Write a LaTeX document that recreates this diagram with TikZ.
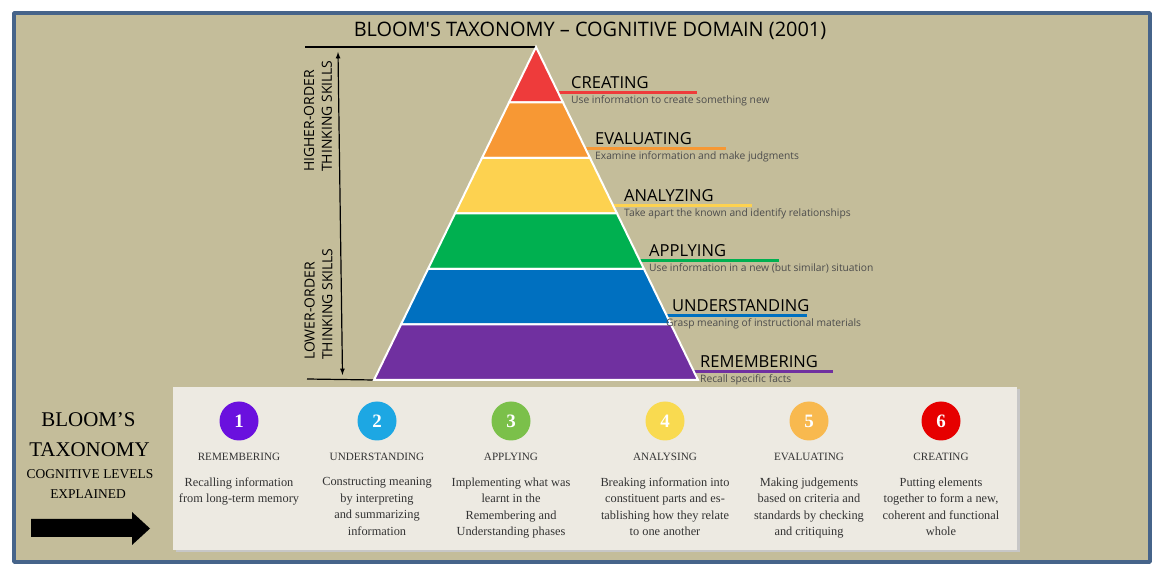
\documentclass[tikz,border=0pt]{standalone}
\usepackage{fontspec}
\setmainfont{Liberation Serif}
\newfontfamily\labelfont{Open Sans}
\usetikzlibrary{arrows.meta}
\definecolor{frameblue}{HTML}{46648A}
\definecolor{bgtan}{HTML}{C4BD9A}
\definecolor{panelgrey}{HTML}{EDEAE2}
\definecolor{lvred}{HTML}{EE3B3B}
\definecolor{lvorange}{HTML}{F79834}
\definecolor{lvyellow}{HTML}{FDD250}
\definecolor{lvgreen}{HTML}{00B050}
\definecolor{lvblue}{HTML}{0070C0}
\definecolor{lvpurple}{HTML}{7030A0}
\definecolor{cpurple}{HTML}{6A10DE}
\definecolor{ccyan}{HTML}{1DA7E3}
\definecolor{cgreen}{HTML}{7BC04A}
\definecolor{cyellow}{HTML}{F9DA50}
\definecolor{corange}{HTML}{F8B94F}
\definecolor{cred}{HTML}{E60000}

\begin{document}
\begin{tikzpicture}[>=latex,line join=bevel,
  lvl/.style={anchor=base west,inner sep=0pt,font=\labelfont\fontsize{16.6}{19}\selectfont},
  sub/.style={anchor=base west,inner sep=0pt,text=black!70,font=\labelfont\fontsize{10.3}{12}\selectfont},
  uline/.style={line width=3bp},
  layer/.style={draw=white,line width=2bp,line join=miter},
  side/.style={rotate=90,anchor=west,align=left,inner sep=0pt,font=\labelfont\fontsize{14}{18}\selectfont},
  num/.style={circle,minimum size=39bp,inner sep=0pt,text=white,font=\bfseries\fontsize{19}{22}\selectfont},
  head/.style={anchor=base,inner sep=0pt,text=black!80,font=\fontsize{11.2}{13}\selectfont},
  desc/.style={anchor=north,align=center,inner sep=0pt,text=black!80,font=\fontsize{12.4}{16.5}\selectfont}]
%%
\useasboundingbox (0bp,0bp) rectangle (1168bp,576bp);
\fill[white] (0bp,0bp) rectangle (1168bp,576bp);
\filldraw[fill=bgtan,draw=frameblue,line width=4bp] (14bp,14bp) rectangle (1150bp,563bp);
\node (title) at (590bp,539bp) [anchor=base,inner sep=0pt,font=\labelfont\fontsize{20}{23}\selectfont] {BLOOM'S TAXONOMY – COGNITIVE DOMAIN (2001)};
%
\coordinate (apex) at (536bp,529bp);
\coordinate (base_l) at (374bp,196bp);
\coordinate (top_l) at (305bp,529bp);
\coordinate (bot_l) at (307bp,197bp);
\coordinate (arr_top) at (338bp,524bp);
\coordinate (arr_bot) at (342.5bp,201bp);
\draw [black,line width=1.2bp] (top_l) -- (apex);
\draw [black,line width=1.2bp] (bot_l) -- (base_l);
\draw [black,line width=1.2bp,<->] (arr_bot) -- (arr_top);
\node (side_hi) at (318bp,404bp) [side] {HIGHER-ORDER\\THINKING SKILLS};
\node (side_lo) at (318.5bp,216bp) [side] {LOWER-ORDER\\THINKING SKILLS};
%
\draw [lvred,uline] (556bp,483bp) -- (697bp,483bp);
\draw [lvorange,uline] (583bp,427bp) -- (726bp,427bp);
\draw [lvyellow,uline] (611bp,370bp) -- (752bp,370bp);
\draw [lvgreen,uline] (638bp,315bp) -- (779bp,315bp);
\draw [lvblue,uline] (665bp,260bp) -- (807bp,260bp);
\draw [lvpurple,uline] (692bp,204bp) -- (833bp,204bp);
%
\filldraw [layer,fill=lvred] (536bp,529bp) -- (563bp,473.5bp) -- (509bp,473.5bp) -- cycle;
\filldraw [layer,fill=lvorange] (509bp,473.5bp) -- (563bp,473.5bp) -- (590bp,418bp) -- (482bp,418bp) -- cycle;
\filldraw [layer,fill=lvyellow] (482bp,418bp) -- (590bp,418bp) -- (617bp,362.5bp) -- (455bp,362.5bp) -- cycle;
\filldraw [layer,fill=lvgreen] (455bp,362.5bp) -- (617bp,362.5bp) -- (644bp,307bp) -- (428bp,307bp) -- cycle;
\filldraw [layer,fill=lvblue] (428bp,307bp) -- (644bp,307bp) -- (671bp,251.5bp) -- (401bp,251.5bp) -- cycle;
\filldraw [layer,fill=lvpurple] (401bp,251.5bp) -- (671bp,251.5bp) -- (698bp,196bp) -- (374bp,196bp) -- cycle;
%
\node (lvl_6) at (571bp,487bp) [lvl] {CREATING};
\node (sub_6) at (571bp,472bp) [sub] {Use information to create something new};
\node (lvl_5) at (595bp,431bp) [lvl] {EVALUATING};
\node (sub_5) at (595bp,416bp) [sub] {Examine information and make judgments};
\node (lvl_4) at (624bp,374bp) [lvl] {ANALYZING};
\node (sub_4) at (624bp,359bp) [sub] {Take apart the known and identify relationships};
\node (lvl_3) at (649bp,319bp) [lvl] {APPLYING};
\node (sub_3) at (649bp,304bp) [sub] {Use information in a new (but similar) situation};
\node (lvl_2) at (672bp,264bp) [lvl] {UNDERSTANDING};
\node (sub_2) at (666bp,249bp) [sub] {Grasp meaning of instructional materials};
\node (lvl_1) at (700bp,208bp) [lvl] {REMEMBERING};
\node (sub_1) at (700bp,193bp) [sub] {Recall specific facts};
%
\node (bl_1) at (88.5bp,149bp) [anchor=base,inner sep=0pt,font=\fontsize{21}{24}\selectfont] {BLOOM’S};
\node (bl_2) at (89.5bp,119bp) [anchor=base,inner sep=0pt,font=\fontsize{21}{24}\selectfont] {TAXONOMY};
\node (bl_3) at (90bp,97bp) [anchor=base,inner sep=0pt,font=\fontsize{13.5}{16}\selectfont] {COGNITIVE LEVELS};
\node (bl_4) at (88bp,77bp) [anchor=base,inner sep=0pt,font=\fontsize{13.5}{16}\selectfont] {EXPLAINED};
\fill [black] (31bp,57bp) -- (132bp,57bp) -- (132bp,64bp) -- (150bp,47.5bp) -- (132bp,31bp) -- (132bp,39bp) -- (31bp,39bp) -- cycle;
%
\fill [black!22] (175.5bp,23.5bp) rectangle (1019.5bp,186.5bp);
\fill [panelgrey] (173bp,26bp) rectangle (1017bp,189bp);
\node (num_1) at (239bp,155bp) [num,fill=cpurple] {1};
\node (num_2) at (377bp,155bp) [num,fill=ccyan] {2};
\node (num_3) at (511bp,155bp) [num,fill=cgreen] {3};
\node (num_4) at (665bp,155bp) [num,fill=cyellow] {4};
\node (num_5) at (809bp,155bp) [num,fill=corange] {5};
\node (num_6) at (941bp,155bp) [num,fill=cred] {6};
\node (head_1) at (239bp,115bp) [head] {REMEMBERING};
\node (head_2) at (377bp,115bp) [head] {UNDERSTANDING};
\node (head_3) at (511bp,115bp) [head] {APPLYING};
\node (head_4) at (665bp,115bp) [head] {ANALYSING};
\node (head_5) at (809bp,115bp) [head] {EVALUATING};
\node (head_6) at (941bp,115bp) [head] {CREATING};
\node (desc_1) at (239bp,98.5bp) [desc] {Recalling information\\from long-term memory};
\node (desc_2) at (377bp,98.5bp) [desc] {Constructing meaning\\by interpreting\\and summarizing\\information};
\node (desc_3) at (511bp,98.5bp) [desc] {Implementing what was\\learnt in the\\Remembering and\\Understanding phases};
\node (desc_4) at (665bp,98.5bp) [desc] {Breaking information into\\constituent parts and es-\\tablishing how they relate\\to one another};
\node (desc_5) at (809bp,98.5bp) [desc] {Making judgements\\based on criteria and\\standards by checking\\and critiquing};
\node (desc_6) at (941bp,98.5bp) [desc] {Putting elements\\together to form a new,\\coherent and functional\\whole};
%
\end{tikzpicture}
\end{document}
